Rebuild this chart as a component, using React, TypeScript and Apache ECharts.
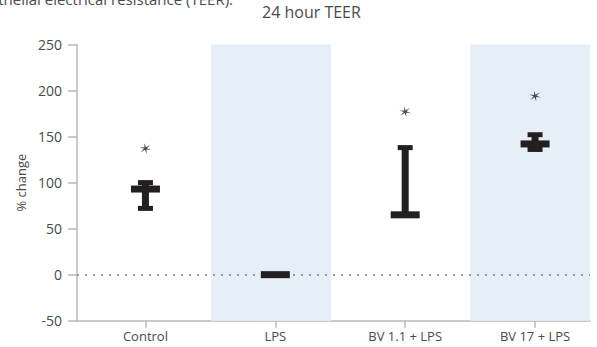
import React, { useEffect, useRef } from "react";
import * as echarts from "echarts";

const categories = ["Control", "LPS", "BV 1.1 + LPS", "BV 17 + LPS"];
const means = [93, 0, 65, 142];
const upper = [100, 0, 138, 152];
const lower = [72, 0, 65, 136];
const stars = [137, null, 177, 194];
const yTicks = [-50, 0, 50, 100, 150, 200, 250];
const shadedBands = [
  [0.505, 1.43],
  [2.5, 3.423],
];

const STAR =
  "path://M50 0 L56 39.6 L93.3 25 L62 50 L93.3 75 L56 60.4 L50 100 L44 60.4 L6.7 75 L38 50 L6.7 25 L44 39.6 Z";

const FONT = "Open Sans";
const TEXT = "#4a4a4a";
const AXIS = "#b8b8b8";
const INK = "#231f20";

export default function App() {
  const ref = useRef<HTMLDivElement>(null);
  useEffect(() => {
    if (!ref.current) return;
    const chart = echarts.init(ref.current, null, { renderer: "svg" });
    const idx = categories.map((_, i) => i);
    const errData = idx.map((i) => [i, means[i], upper[i], lower[i]]);
    const starData = idx
      .filter((i) => stars[i] !== null)
      .map((i) => [i, stars[i] as number]);

    chart.setOption({
      animation: false,
      textStyle: { fontFamily: FONT },
      title: {
        text: "24 hour TEER",
        left: 262,
        top: 4,
        padding: 0,
        textStyle: { fontFamily: FONT, fontSize: 16, fontWeight: "normal", color: TEXT },
      },
      graphic: [
        {
          type: "text",
          right: 597 - 233,
          top: -9,
          style: {
            text: "Transendothelial electrical resistance (TEER).",
            fontFamily: FONT,
            fontSize: 15,
            fill: TEXT,
          },
        },
      ],
      grid: { left: 77, right: 7, top: 44.5, bottom: 26.3 },
      xAxis: {
        type: "value",
        min: -0.527,
        max: 3.423,
        splitLine: { show: false },
        axisLine: { show: true, onZero: false, lineStyle: { color: AXIS, width: 1.5 } },
        axisTick: { show: true, length: 7, customValues: idx, lineStyle: { color: AXIS, width: 1.5 } },
        axisLabel: {
          customValues: idx,
          formatter: (v: number) => categories[Math.round(v)] ?? "",
          fontFamily: FONT,
          fontSize: 13,
          color: TEXT,
          margin: 9,
        },
      },
      yAxis: {
        type: "value",
        min: yTicks[0],
        max: yTicks[yTicks.length - 1],
        interval: 50,
        name: "% change",
        nameLocation: "middle",
        nameGap: 50,
        nameTextStyle: { fontFamily: FONT, fontSize: 13, color: TEXT },
        splitLine: { show: false },
        axisLine: { show: true, onZero: false, lineStyle: { color: AXIS, width: 1.5 } },
        axisTick: { show: true, length: 9, lineStyle: { color: AXIS, width: 1.5 } },
        axisLabel: { fontFamily: FONT, fontSize: 14, color: TEXT, margin: 15 },
      },
      series: [
        {
          type: "line",
          data: [],
          z: 0,
          silent: true,
          markArea: {
            silent: true,
            itemStyle: { color: "#e6eef7" },
            data: shadedBands.map((b) => [{ xAxis: b[0] }, { xAxis: b[1] }]),
          },
          markLine: {
            silent: true,
            symbol: "none",
            label: { show: false },
            lineStyle: { type: [2, 6], color: "#9a9a9a", width: 2 },
            data: [{ yAxis: 0 }],
          },
        },
        {
          type: "custom",
          z: 5,
          data: errData,
          renderItem: (params: any, api: any) => {
            const x = api.value(0);
            const pm = api.coord([x, api.value(1)]);
            const ph = api.coord([x, api.value(2)]);
            const pl = api.coord([x, api.value(3)]);
            const style = { fill: INK };
            const stemW = 7;
            const capW = 15;
            const capH = 5;
            const meanW = 29;
            const meanH = 7;
            return {
              type: "group",
              children: [
                {
                  type: "rect",
                  shape: { x: pm[0] - stemW / 2, y: ph[1], width: stemW, height: Math.max(0, pl[1] - ph[1]) },
                  style,
                },
                {
                  type: "rect",
                  shape: { x: ph[0] - capW / 2, y: ph[1] - capH / 2, width: capW, height: capH },
                  style,
                },
                {
                  type: "rect",
                  shape: { x: pl[0] - capW / 2, y: pl[1] - capH / 2, width: capW, height: capH },
                  style,
                },
                {
                  type: "rect",
                  shape: { x: pm[0] - meanW / 2, y: pm[1] - meanH / 2, width: meanW, height: meanH },
                  style,
                },
              ],
            };
          },
        },
        {
          type: "scatter",
          z: 5,
          data: starData,
          symbol: STAR,
          symbolSize: 11,
          symbolRotate: 12,
          itemStyle: { color: INK },
        },
      ],
    });
    return () => chart.dispose();
  }, []);
  return (
    <div
      ref={ref}
      style={{ position: "absolute", left: 0, top: 0, width: 597, height: 347 }}
    />
  );
}
